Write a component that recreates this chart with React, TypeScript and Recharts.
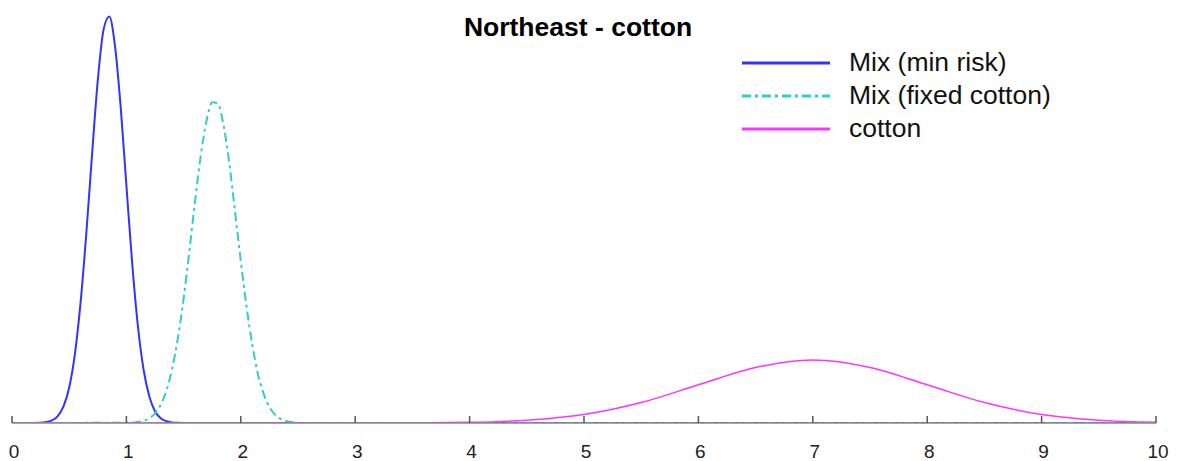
import React from 'react';
import { LineChart, Line, XAxis, YAxis } from 'recharts';

const title = 'Northeast - cotton';
const seriesNames = ['Mix (min risk)', 'Mix (fixed cotton)', 'cotton'];
const xTicks = [0, 1, 2, 3, 4, 5, 6, 7, 8, 9, 10];

const minRiskX = [0, 0.25, 0.3, 0.35, 0.4, 0.45, 0.5, 0.55, 0.6, 0.65, 0.7, 0.75, 0.8, 0.85, 0.9, 0.95, 1.0, 1.05, 1.1, 1.15, 1.2, 1.25, 1.3, 1.35, 1.4, 1.45, 1.5, 10];
const minRiskY = [0, 0.001, 0.006, 0.016, 0.044, 0.105, 0.226, 0.44, 0.77, 1.21, 1.71, 2.18, 2.5, 2.585, 2.4, 2.01, 1.51, 1.02, 0.62, 0.34, 0.17, 0.075, 0.03, 0.011, 0.0035, 0.001, 0, 0];

const fixedX = [0, 1.05, 1.1, 1.15, 1.2, 1.25, 1.3, 1.35, 1.4, 1.45, 1.5, 1.55, 1.6, 1.65, 1.7, 1.75, 1.8, 1.85, 1.9, 1.95, 2.0, 2.05, 2.1, 2.15, 2.2, 2.25, 2.3, 2.35, 2.4, 2.45, 2.5, 2.55, 10];
const fixedY = [0, 0.002, 0.006, 0.014, 0.03, 0.061, 0.116, 0.207, 0.345, 0.54, 0.79, 1.09, 1.41, 1.7, 1.92, 2.04, 2.03, 1.89, 1.65, 1.34, 1.03, 0.74, 0.5, 0.31, 0.185, 0.102, 0.053, 0.026, 0.012, 0.005, 0.002, 0, 0];

const cottonX = [0, 3.0, 3.5, 4.0, 4.5, 5.0, 5.5, 6.0, 6.5, 7.0, 7.5, 8.0, 8.5, 9.0, 9.5, 10];
const cottonY = [0, 0, 0.001, 0.0044, 0.0176, 0.054, 0.13, 0.243, 0.353, 0.4, 0.353, 0.243, 0.13, 0.054, 0.0176, 0.0044];

const toPoints = (xs: number[], ys: number[]) => xs.map((x, i) => ({ x, y: ys[i] }));

const minRiskData = toPoints(minRiskX, minRiskY);
const fixedData = toPoints(fixedX, fixedY);
const cottonData = toPoints(cottonX, cottonY);

const colors = ['#3333ff', '#33cccc', '#ff33ff'];
const dashes = [undefined, '9 4 3 4', undefined];
const widths = [2, 2, 1.5];

const FONT = 'Liberation Sans, Arial, sans-serif';

const Tick = (props: any) => {
  const { x, y, payload } = props;
  return (
    <g>
      <line x1={x} x2={x} y1={y - 7} y2={y} stroke="#555" strokeWidth={1.5} />
      <text x={x + 2} y={y + 35} textAnchor="middle" fontSize={19} fontFamily={FONT} fill="#222">
        {payload.value}
      </text>
    </g>
  );
};

const LegendBox = () => (
  <div style={{ position: 'absolute', left: 742, top: 46, fontFamily: FONT, fontSize: 26.5, color: '#111' }}>
    {seriesNames.map((n, i) => (
      <div key={n} style={{ display: 'flex', alignItems: 'center', height: 33, whiteSpace: 'nowrap' }}>
        <svg width={88} height={6} style={{ marginRight: 19 }}>
          <line x1={0} x2={88} y1={3} y2={3} stroke={colors[i]} strokeWidth={3} strokeDasharray={dashes[i]} />
        </svg>
        <span>{n}</span>
      </div>
    ))}
  </div>
);

export default function App() {
  return (
    <div style={{ position: 'absolute', left: 0, top: 0, width: 1178, height: 461, background: '#fff' }}>
      <LineChart width={1178} height={461} margin={{ top: 11, right: 22, left: 12, bottom: 0 }}>
        <text x={578} y={36} textAnchor="middle" fontSize={26.5} fontWeight="bold" fontFamily={FONT} fill="#000">
          {title}
        </text>
        <XAxis
          dataKey="x"
          type="number"
          domain={[0, 10]}
          ticks={xTicks}
          height={38}
          tickSize={0}
          tickMargin={0}
          tickLine={false}
          tick={<Tick />}
          axisLine={{ stroke: '#888', strokeWidth: 1.5 }}
          allowDuplicatedCategory={false}
        />
        <YAxis
          type="number"
          domain={[0, 2.62]}
          width={0}
          tick={false}
          tickLine={false}
          axisLine={{ stroke: '#888', strokeWidth: 2 }}
          allowDataOverflow
        />
        <Line data={minRiskData} dataKey="y" type="monotone" stroke={colors[0]} strokeWidth={widths[0]} dot={false} isAnimationActive={false} />
        <Line data={fixedData} dataKey="y" type="monotone" stroke={colors[1]} strokeWidth={widths[1]} strokeDasharray={dashes[1]} dot={false} isAnimationActive={false} />
        <Line data={cottonData} dataKey="y" type="monotone" stroke={colors[2]} strokeWidth={widths[2]} dot={false} isAnimationActive={false} />
      </LineChart>
      <LegendBox />
    </div>
  );
}
